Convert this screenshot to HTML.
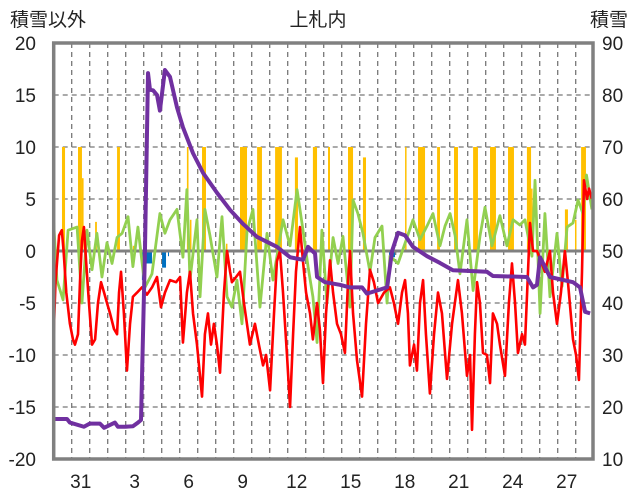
<!DOCTYPE html>
<html><head><meta charset="utf-8"><style>
body{margin:0;background:#fff;}
svg{display:block;font-family:"Liberation Sans","Noto Sans CJK JP",sans-serif;}
</style></head><body>
<svg id="chart" width="636" height="501" viewBox="0 0 636 501">
<text x="48" y="26" font-size="19" text-anchor="middle" fill="#222">積雪以外</text>
<text x="318" y="26" font-size="19" text-anchor="middle" fill="#222">上札内</text>
<text x="609" y="26" font-size="19" text-anchor="middle" fill="#222">積雪</text>
<g id="grid"></g><g id="bars"></g><g id="lines"></g><g id="axes"></g>
</svg>
<script>
const leftTicks=[-20,-15,-10,-5,0,5,10,15,20];
const rightTicks=[10,20,30,40,50,60,70,80,90];
const xLabels=["31","3","6","9","12","15","18","21","24","27"];
const xLabelDays=[1,4,7,10,13,16,19,22,25,28];
const redT=[0,0.1,0.3,0.45,0.55,0.7,0.9,1.07,1.18,1.35,1.46,1.57,1.68,1.8,1.96,2.13,2.3,2.46,2.63,2.8,2.96,3.13,3.35,3.52,3.63,3.74,3.9,4.07,4.24,4.4,4.63,4.9,5.18,5.46,5.74,5.96,6.18,6.46,6.8,7.02,7.18,7.4,7.57,7.74,7.96,8.24,8.4,8.57,8.74,8.9,9.07,9.24,9.46,9.63,9.8,9.9,10.13,10.35,10.57,10.9,11.18,11.4,11.63,11.8,12.02,12.24,12.4,12.57,12.74,12.96,13.13,13.3,13.46,13.68,13.85,14.02,14.24,14.4,14.63,14.79,14.96,15.13,15.35,15.52,15.74,15.96,16.18,16.35,16.46,16.63,16.85,17.13,17.35,17.57,17.79,18.02,18.35,18.68,18.9,19.13,19.35,19.52,19.68,19.79,20.02,20.18,20.35,20.52,20.68,20.9,21.13,21.35,21.57,21.85,22.13,22.46,22.68,22.96,23.13,23.24,23.4,23.52,23.68,23.85,24.07,24.24,24.4,24.63,24.79,25.07,25.29,25.46,25.63,25.79,26.02,26.18,26.35,26.46,26.63,26.85,27.07,27.29,27.57,27.74,27.96,28.18,28.4,28.57,28.85,29.02,29.18,29.35,29.46,29.63,29.74,29.9];
const redV=[-8,-3,1.5,2,0,-4,-7,-8.5,-9,-8,-3,1,2.3,-1,-5,-9,-8.5,-5,-3,-4,-5,-6,-7.5,-8,-4,-2,-6,-11.5,-7,-4.4,-4,-3.5,-4.2,-3.5,-2.5,-5.4,-4,-2.8,-3,-2.5,-8.8,-4,-2,-6,-9,-14,-8,-6,-9,-7,-9,-11.7,-4,0,-2,-3,-2.5,-2,-5,-9,-7,-9,-11,-10,-13.4,-6,-1,0,-4,-10,-15,-8,-2,2.3,-1,-4,-6,-8.5,-5,-7.6,-12.7,-6,-0.9,-4,-7,-8,-9.8,-3,0,-6,-10.5,-14,-7,-1.8,-3,-5,-4,-3.5,-5,-7,-4,-2.8,-6,-11,-9,-11.5,-5,-2.8,-8,-13.7,-8,-4,-6,-12.3,-7,-2.8,-6,-12,-10,-17.2,-8,-3,-5,-9.8,-10,-12.7,-6,-7,-9,-12,-5,-1.2,-5,-9.8,-8,-9,-2,2.7,0,0,-1,-2,0,-4,-7,-4,0,-3,-8.5,-10,-12.4,-2,6.8,5,6,5];
const greenT=[0,0.18,0.52,0.8,1.3,1.57,1.85,2.13,2.4,2.68,2.96,3.24,3.52,3.8,4.13,4.4,4.68,5.07,5.46,5.9,6.18,6.46,6.85,7.18,7.4,7.57,7.96,8.13,8.4,8.68,9.07,9.35,9.63,9.9,10.18,10.46,10.74,11.07,11.46,11.85,12.18,12.74,13.13,13.52,13.85,14.13,14.4,14.63,14.9,15.18,15.52,15.8,16.07,16.46,16.63,16.9,17.18,17.57,17.85,18.24,18.52,18.68,19.13,19.63,19.96,20.35,20.74,21.07,21.46,21.74,22.02,22.3,22.57,22.96,23.3,23.68,23.96,24.35,24.79,25.18,25.52,25.9,26.18,26.57,26.74,27.02,27.29,27.57,27.96,28.24,28.52,28.85,29.13,29.4,29.6,29.9];
const greenV=[2.7,-2.8,-4.7,2,2.3,-5,2,-1.8,1.7,-2.5,0.8,-1.2,1.3,1.7,3.3,-1.5,2.3,-3.5,-2.2,3.6,1.7,3,4,-0.6,5.9,-2.8,3,-4.4,4,1.5,-2.5,3.3,-4.4,-5.4,-2.8,-7,1.9,4,-5.4,1.7,-2.8,3,0.5,5.9,2,-1.5,-4.4,-8.8,2,-5,1.3,-1.2,1.4,-5.4,4.9,3.6,1.7,-2,1.3,2.4,-5,-0.5,-1.2,1.3,3,1.1,2.4,3.6,0.5,2.4,3.6,1.5,-2.2,3,-3.8,1.4,4.2,0.5,3.4,0.5,3,2.5,3,-0.5,6.8,-6,3.6,-4.4,1.7,-3.4,2.3,2.7,4.9,3.6,7.3,4];
const snowT=[0,0.74,0.9,1.68,2.0,2.57,2.8,3.4,3.57,3.96,4.4,4.68,4.85,5.07,5.24,5.35,5.52,5.74,5.9,6.18,6.46,6.85,7.18,7.74,8.3,9.07,9.8,10.52,11.3,12.4,13.13,13.85,14.13,14.52,14.63,15.07,15.9,16.46,17.13,17.4,18.52,18.8,19.13,19.52,19.96,20.74,21.46,22.18,24.07,24.4,26.29,26.63,26.85,27.02,27.57,28.85,29.24,29.52,29.8];
const snowV=[17.7,17.7,17,16.2,16.8,16.8,16,17,16.2,16.2,16.3,17,17.5,50,84.2,81,80.9,80,77,84.8,83.5,77.6,73.8,68.8,65,61.2,57.9,55.2,52.7,50.8,48.8,48.3,50.8,49.5,45,44,43.5,43,43,41.8,43,50,53.5,53,50.8,49,47.7,46.3,46,45.2,45,43,43.5,48.8,45,44,43,38.3,38];
const precipStart=[0.46,1.35,1.57,2.3,3.52,4.4,5.63,7.4,7.57,8.24,9.57,10.35,11.3,12.3,13.4,14.4,15.24,16.35,17.18,19.52,20.24,21.3,22.24,23.3,24.24,25.24,26.29,26.52,28.4,28.96,29.3];
const precipEnd=[0.63,1.57,1.66,2.4,3.68,4.45,5.68,7.49,7.62,8.46,9.63,10.74,11.57,12.68,13.57,14.63,15.35,16.63,17.35,19.55,20.63,21.46,22.46,23.57,24.57,25.57,26.52,26.6,28.57,29.02,29.57];
const precipV=[10,10,7,2.8,10,0.5,0.9,10,3,10,0.7,10,10,10,9,10,10,10,9,10,10,10,10,10,10,10,10,6,4,3,10];
const blueStart=[4.9,5.13,6.02,6.35,18.63];
const blueEnd=[5.13,5.46,6.24,6.4,18.96];
const blueV=[-2.8,-1.2,-1.6,-0.5,-0.6];

const NS="http://www.w3.org/2000/svg";
const L=53.7,R=593,T=43,B=459;
const X=t=>L+t*18;
const YL=v=>251-v*10.4;
const YR=v=>459-(v-10)*5.2;
function mk(tag,attrs,parent){const e=document.createElementNS(NS,tag);for(const k in attrs)e.setAttribute(k,attrs[k]);parent.appendChild(e);return e;}
const grid=document.getElementById('grid'),bars=document.getElementById('bars'),lines=document.getElementById('lines'),axes=document.getElementById('axes');
leftTicks.forEach(v=>{
  if(v!==0&&v!==20&&v!==-20){const g=mk('line',{x1:L,x2:R,y1:YL(v),y2:YL(v),stroke:'#777','stroke-width':1.3,'stroke-dasharray':'5,4'},grid);
  
  }
  const t=mk('text',{x:36,y:YL(v)+7,'font-size':19,'text-anchor':'end',fill:'#222'},axes);t.textContent=v;
  
  
});
rightTicks.forEach(v=>{
  const t=mk('text',{x:602,y:YR(v)+7,'font-size':19,fill:'#222'},axes);t.textContent=v;
  
  
});
for(let d=1;d<30;d++){const g=mk('line',{x1:X(d),x2:X(d),y1:T,y2:B,stroke:'#777','stroke-width':1.3,'stroke-dasharray':'5,4'},grid);
  
  }
xLabels.forEach((s,i)=>{const t=mk('text',{x:X(xLabelDays[i]+0.5),y:488,'font-size':19,'text-anchor':'middle',fill:'#222'},axes);t.textContent=s;
  
  });
precipV.forEach((v,i)=>{const r=mk('rect',{x:X(precipStart[i]),y:YL(v),width:Math.max(1.5,X(precipEnd[i])-X(precipStart[i])),height:YL(0)-YL(v),fill:'#FFC000'},bars);
  
  });
blueV.forEach((v,i)=>{const r=mk('rect',{x:X(blueStart[i]),y:YL(0),width:Math.max(1,X(blueEnd[i])-X(blueStart[i])),height:YL(v)-YL(0),fill:'#0070C0'},bars);
  
  });
const zl=mk('line',{x1:L,x2:R,y1:YL(0),y2:YL(0),stroke:'#808080','stroke-width':3},bars);


function poly(ts,vs,yf,color,w,name){const p=mk('polyline',{points:ts.map((t,i)=>X(t)+','+yf(vs[i])).join(' '),fill:'none',stroke:color,'stroke-width':w,'stroke-linejoin':'round'},lines);
  
  }
poly(greenT,greenV,YL,'#92D050',2.8,'green-series-line');
poly(redT,redV,YL,'#FF0000',2.6,'red-series-line');
poly(snowT,snowV,YR,'#7030A0',4,'snow-depth-line');
const fr=mk('rect',{x:L,y:T,width:R-L,height:B-T,fill:'none',stroke:'#808080','stroke-width':3.5},axes);


</script>
</body></html>
